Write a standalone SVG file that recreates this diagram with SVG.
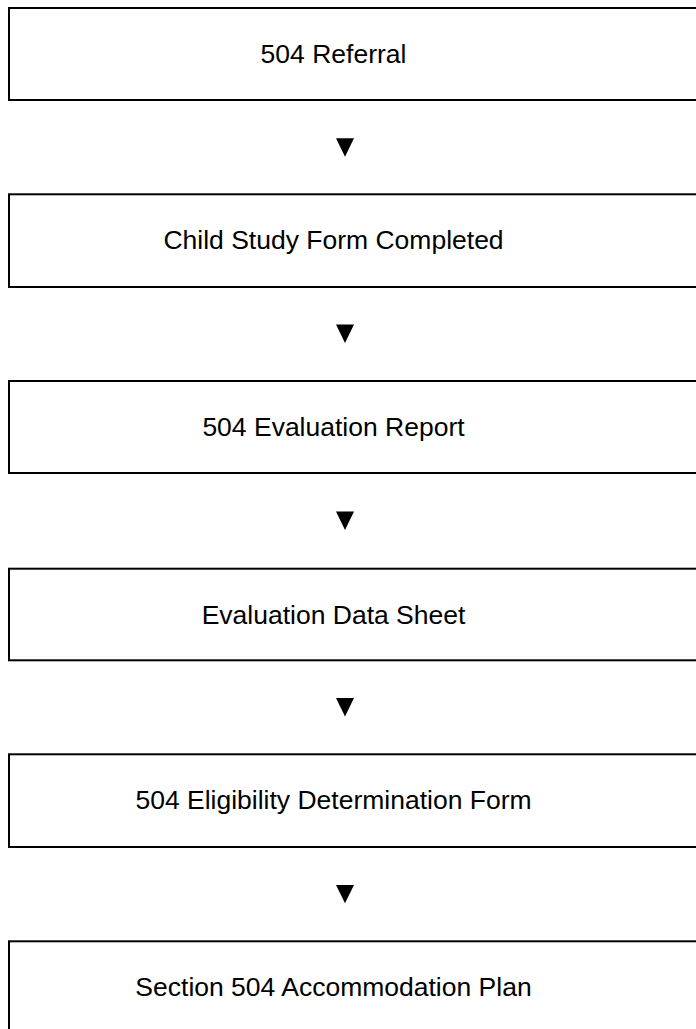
<svg xmlns="http://www.w3.org/2000/svg" width="696" height="1029" viewBox="0 0 696 1029">
  <style>
    .box { fill: #ffffff; stroke: #000000; stroke-width: 2; }
    .label { font-family: "Liberation Sans", Arial, sans-serif; font-size: 26.5px; fill: #000000; text-anchor: middle; }
    .arrow { fill: #000000; stroke: none; }
  </style>
  <rect x="0" y="0" width="696" height="1029" fill="#ffffff"/>

  <!-- process steps; boxes run off the right edge of the page -->
  <g id="step-referral">
    <rect class="box" x="9" y="8" width="720" height="92"/>
    <text class="label" x="333.5" y="63">504 Referral</text>
  </g>
  <g id="step-child-study">
    <rect class="box" x="9" y="194.3" width="720" height="92.7"/>
    <text class="label" x="333.5" y="249.3">Child Study Form Completed</text>
  </g>
  <g id="step-evaluation-report">
    <rect class="box" x="9" y="381" width="720" height="92"/>
    <text class="label" x="333.5" y="436">504 Evaluation Report</text>
  </g>
  <g id="step-data-sheet">
    <rect class="box" x="9" y="568.7" width="720" height="91.6"/>
    <text class="label" x="333.5" y="623.7">Evaluation Data Sheet</text>
  </g>
  <g id="step-eligibility">
    <rect class="box" x="9" y="754.3" width="720" height="92.7"/>
    <text class="label" x="333.5" y="809.3">504 Eligibility Determination Form</text>
  </g>
  <g id="step-accommodation-plan">
    <rect class="box" x="9" y="941.3" width="720" height="120"/>
    <text class="label" x="333.5" y="996.3">Section 504 Accommodation Plan</text>
  </g>

  <!-- downward pointers between steps -->
  <g id="connectors">
    <polygon class="arrow" points="336,138.3 354,138.3 345,156.7"/>
    <polygon class="arrow" points="336,324.5 354,324.5 345,342.9"/>
    <polygon class="arrow" points="336,511.5 354,511.5 345,529.9"/>
    <polygon class="arrow" points="336,698 354,698 345,716.4"/>
    <polygon class="arrow" points="336,884.9 354,884.9 345,903.3"/>
  </g>
</svg>
